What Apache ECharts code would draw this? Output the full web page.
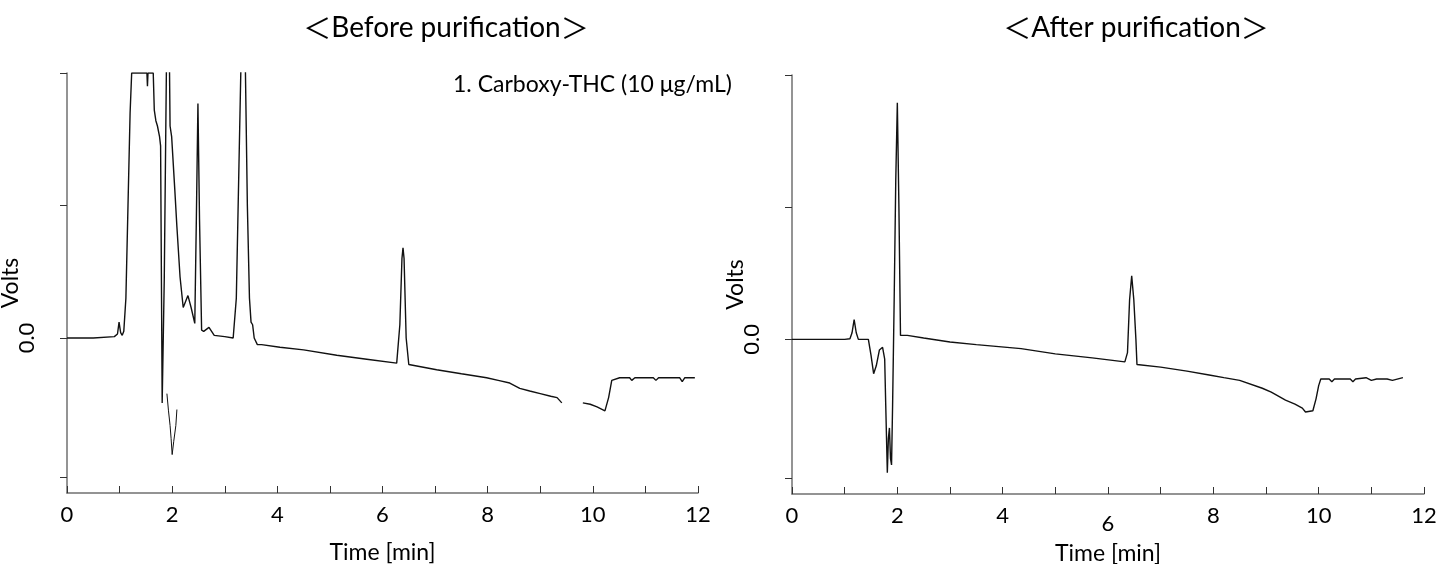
<!DOCTYPE html>
<html>
<head>
<meta charset="utf-8">
<title>Chromatograms</title>
<script src="https://cdn.jsdelivr.net/npm/echarts@6/dist/echarts.min.js"></script>
<style>
  html, body { margin: 0; padding: 0; background: #fff; }
  #chart { width: 1437px; height: 564px; }
</style>
</head>
<body>
<div id="chart"></div>
<script>
// time [min], signal
const beforeTime = [0, 0.5, 0.9, 0.96, 0.99, 1.02, 1.05, 1.08, 1.12, 1.16, 1.2, 1.23, 1.4, 1.52, 1.53, 1.54, 1.64, 1.66, 1.69, 1.72, 1.76, 1.78, 1.81, 1.85, 1.9, 1.94, 1.96, 1.99, 2.05, 2.09, 2.15, 2.21, 2.24, 2.3, 2.36, 2.43, 2.46, 2.49, 2.52, 2.56, 2.6, 2.7, 2.8, 3.0, 3.16, 3.22, 3.27, 3.31, 3.36, 3.39, 3.43, 3.47, 3.5, 3.53, 3.56, 3.62, 3.7, 4.05, 4.5, 5.13, 5.7, 6.27, 6.33, 6.37, 6.39, 6.41, 6.45, 6.5, 7.03, 7.5, 7.98, 8.2, 8.42, 8.61, 8.8, 9.0, 9.2, 9.32, 9.41, 9.6, 9.81, 9.95, 10.08, 10.23, 10.3, 10.36, 10.51, 10.7, 10.74, 10.8, 11.15, 11.2, 11.25, 11.65, 11.7, 11.75, 11.94];
const beforeVolts = [0, 0, 0.01, 0.03, 0.12, 0.04, 0.02, 0.05, 0.3, 1.0, 1.7, 2.0, 2.0, 2.0, 1.9, 2.0, 2.0, 1.72, 1.64, 1.6, 1.52, 1.45, -0.49, 0.45, 2.4, 2.4, 1.6, 1.52, 1.12, 0.84, 0.46, 0.23, 0.22, 0.32, 0.23, 0.11, 0.9, 1.77, 0.9, 0.06, 0.05, 0.08, 0.02, 0.01, 0, 0.3, 1.3, 2.1, 2.5, 2.1, 1.0, 0.3, 0.12, 0.1, 0.0, -0.05, -0.05, -0.07, -0.09, -0.13, -0.16, -0.19, 0.1, 0.6, 0.68, 0.6, 0.0, -0.2, -0.24, -0.27, -0.3, -0.32, -0.34, -0.38, -0.4, -0.42, -0.44, -0.45, -0.49, null, -0.49, -0.5, -0.52, -0.55, -0.45, -0.32, -0.3, -0.3, -0.32, -0.3, -0.3, -0.32, -0.3, -0.3, -0.33, -0.3, -0.3];

// clipped fragment of the negative spike below the axis break
const fragTime = [1.9, 1.93, 1.96, 1.98, 2.0, 2.03, 2.07, 2.09];
const fragVolts = [-0.42, -0.55, -0.66, -0.76, -0.88, -0.78, -0.66, -0.54];

const afterTime = [0, 1.0, 1.1, 1.14, 1.18, 1.22, 1.26, 1.45, 1.5, 1.55, 1.6, 1.66, 1.72, 1.76, 1.78, 1.81, 1.83, 1.85, 1.87, 1.89, 1.91, 1.94, 1.97, 2.0, 2.03, 2.06, 2.19, 2.5, 3.0, 3.5, 4.35, 5.0, 5.7, 6.32, 6.37, 6.41, 6.45, 6.49, 6.53, 6.55, 7.0, 7.5, 7.92, 8.2, 8.5, 8.93, 9.1, 9.37, 9.55, 9.69, 9.75, 9.89, 9.95, 10.0, 10.04, 10.2, 10.25, 10.3, 10.6, 10.65, 10.7, 10.9, 11.0, 11.1, 11.3, 11.4, 11.6];
const afterVolts = [0, 0, 0.005, 0.05, 0.15, 0.05, 0, 0, -0.12, -0.26, -0.2, -0.08, -0.06, -0.15, -0.5, -1.01, -0.75, -0.67, -0.9, -0.95, -0.5, 0.3, 1.2, 1.79, 1.0, 0.03, 0.03, 0.01, -0.02, -0.04, -0.07, -0.11, -0.14, -0.17, -0.1, 0.3, 0.48, 0.3, 0.0, -0.19, -0.21, -0.24, -0.27, -0.29, -0.31, -0.37, -0.4, -0.46, -0.49, -0.52, -0.55, -0.54, -0.45, -0.35, -0.3, -0.3, -0.32, -0.3, -0.3, -0.32, -0.3, -0.29, -0.31, -0.3, -0.3, -0.31, -0.29];

const xTicks = [0, 2, 4, 6, 8, 10, 12];
const yTicks = [-1.05, 0, 1, 2];
const yLabels = [0];
const peakLabel = '1';
const peakLabelBefore = [6.73, 0.875];
const peakLabelAfter = [6.71, 0.73];

const FONT = 'Lato, "Noto Sans", sans-serif';
const CJK = '"Noto Sans CJK JP", sans-serif';
const axisColor = '#707070';

const pair = (xs, ys) => xs.map((x, i) => [x, ys[i]]);

const makeX = (gridIndex, lowSix) => ({
  type: 'value',
  gridIndex,
  min: 0,
  max: 12,
  interval: 1,
  name: 'Time [min]',
  nameLocation: 'middle',
  nameGap: 48,
  nameMoveOverlap: false,
  nameTextStyle: { fontFamily: FONT, fontSize: 23, color: '#000' },
  axisLine: { onZero: false, lineStyle: { color: axisColor, width: 1.5 } },
  axisTick: { inside: true, length: 7, lineStyle: { color: '#333', width: 1 } },
  axisLabel: {
    customValues: xTicks,
    margin: 11,
    fontFamily: FONT,
    fontSize: 22,
    color: '#000',
    formatter: v => (lowSix && v === 6 ? '{low|6}' : String(v)),
    rich: { low: { fontFamily: FONT, fontSize: 22, color: '#000', padding: [8, 0, 0, 0] } }
  },
  splitLine: { show: false }
});

const makeY = gridIndex => ({
  type: 'value',
  gridIndex,
  min: -1.17,
  max: 2,
  name: 'Volts',
  nameLocation: 'middle',
  nameRotate: 90,
  nameGap: 45,
  nameMoveOverlap: false,
  nameTextStyle: { fontFamily: FONT, fontSize: 23, color: '#000' },
  axisLine: { show: true, onZero: false, lineStyle: { color: axisColor, width: 1.5 } },
  axisTick: { show: true, customValues: yTicks, length: 7, lineStyle: { color: '#333', width: 1 } },
  axisLabel: {
    customValues: yLabels,
    rotate: 90,
    margin: 29,
    fontFamily: FONT,
    fontSize: 22,
    color: '#000',
    formatter: v => v.toFixed(1)
  },
  splitLine: { show: false }
});

const traceStyle = { color: '#111', width: 1.4 };

const labelPoint = coord => ({
  symbol: 'none',
  silent: true,
  label: { show: true, formatter: peakLabel, fontFamily: FONT, fontSize: 21, color: '#000' },
  data: [{ coord, symbolSize: 0 }]
});

const titleText = (x, label) => ({
  type: 'text', x, y: 28,
  style: {
    text: '{b|＜}' + label + '{b|＞}',
    font: '28px ' + FONT,
    fill: '#000',
    align: 'center',
    verticalAlign: 'middle',
    rich: { b: { fontFamily: CJK, fontSize: 28, fill: '#000' } }
  }
});

const chart = echarts.init(document.getElementById('chart'));

const option = {
  backgroundColor: '#fff',
  animation: false,
  grid: [
    { left: 67, top: 73, width: 631, height: 420, outerBoundsMode: 'none', containLabel: false },
    { left: 792, top: 75, width: 632, height: 419, outerBoundsMode: 'none', containLabel: false }
  ],
  xAxis: [makeX(0, false), makeX(1, true)],
  yAxis: [makeY(0), makeY(1)],
  graphic: [
    titleText(446, 'Before purification'),
    titleText(1136, 'After purification'),
    { type: 'text', x: 453, y: 85, style: { text: '1. Carboxy-THC (10 μg/mL)', font: '23px ' + FONT, fill: '#000', align: 'left', verticalAlign: 'middle' } }
  ],
  series: [
    {
      type: 'line', xAxisIndex: 0, yAxisIndex: 0,
      data: pair(beforeTime, beforeVolts),
      showSymbol: false, connectNulls: false,
      lineStyle: traceStyle,
      markPoint: labelPoint(peakLabelBefore)
    },
    {
      type: 'line', xAxisIndex: 0, yAxisIndex: 0,
      data: pair(fragTime, fragVolts),
      showSymbol: false,
      lineStyle: { color: '#111', width: 1 }
    },
    {
      type: 'line', xAxisIndex: 1, yAxisIndex: 1,
      data: pair(afterTime, afterVolts),
      showSymbol: false,
      lineStyle: traceStyle,
      markPoint: labelPoint(peakLabelAfter)
    }
  ]
};

chart.setOption(option);
</script>
</body>
</html>
